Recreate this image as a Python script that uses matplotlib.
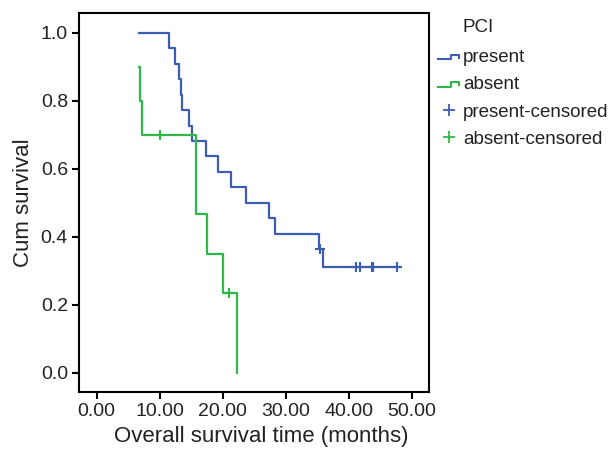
import numpy as np
import matplotlib.pyplot as plt
from matplotlib.lines import Line2D
from matplotlib.legend_handler import HandlerBase

plt.rcParams['font.family'] = ['Liberation Sans', 'DejaVu Sans']

# Kaplan-Meier step curves (time in months, cumulative survival)
present_t = [6.7, 11.4, 12.5, 13.0, 13.3, 13.5, 14.65, 15.2, 17.3, 19.2, 21.3, 23.7, 27.35, 28.35, 35.3, 35.97, 48.0]
present_s = [1.0, 0.955, 0.909, 0.864, 0.818, 0.773, 0.727, 0.682, 0.636, 0.591, 0.545, 0.5, 0.455, 0.409, 0.364, 0.312, 0.312]
present_cens_t = [35.45, 41.15, 41.8, 43.6, 43.8, 47.6]
present_cens_s = [0.364, 0.312, 0.312, 0.312, 0.312, 0.312]

absent_t = [6.77, 6.9, 7.2, 15.7, 17.55, 20.1, 22.2]
absent_s = [0.9, 0.8, 0.7, 0.467, 0.35, 0.233, 0.0]
absent_cens_t = [10.1, 20.95]
absent_cens_s = [0.7, 0.233]

blue = '#3d5cb6'
green = '#2fb84a'
txt = '#222222'


class StepHandler(HandlerBase):
    # small "_|‾|" step glyph for the survival curves in the legend
    def __init__(self, color):
        super().__init__()
        self.color = color

    def create_artists(self, legend, orig_handle, xdescent, ydescent,
                       width, height, fontsize, trans):
        x0 = -xdescent
        lo, hi = height * 0.2, height * 0.55
        xs = [x0, x0 + width * 0.6, x0 + width * 0.6, x0 + width, x0 + width]
        ys = [lo, lo, hi, hi, lo + 0.1 * height]
        line = Line2D(xs, ys, color=self.color, lw=1.5, transform=trans)
        return [line]


fig = plt.figure(figsize=(6.11, 4.5), dpi=100)
ax = fig.add_axes([0.1293, 0.129, 0.5727, 0.842])

ax.step(present_t, present_s, where='post', color=blue, lw=1.6)
ax.step(absent_t, absent_s, where='post', color=green, lw=1.6)
ax.plot(present_cens_t, present_cens_s, '+', color=blue, ms=7, mew=1.5)
ax.plot(absent_cens_t, absent_cens_s, '+', color=green, ms=7, mew=1.5)

ax.set_xlim(-2.8, 52.7)
ax.set_ylim(-0.057, 1.058)
ax.set_xticks(np.arange(0, 51, 10))
ax.set_xticklabels(['%.2f' % v for v in np.arange(0, 51, 10)])
ax.set_yticks(np.arange(0, 1.01, 0.2))
ax.set_yticklabels(['%.1f' % v for v in np.arange(0, 1.01, 0.2)])
ax.tick_params(axis='both', labelsize=14, length=5, width=1.5, direction='out',
               colors='black', labelcolor=txt, top=False, right=False, pad=3)
for s in ax.spines.values():
    s.set_linewidth(1.5)
    s.set_color('black')

ax.set_xlabel('Overall survival time (months)', fontsize=16, color=txt)
ax.xaxis.set_label_coords(0.521, -0.09)
ax.set_ylabel('Cum survival', fontsize=16, color=txt, labelpad=5)

h_present = Line2D([], [], color=blue)
h_absent = Line2D([], [], color=green)
h_pc = Line2D([], [], color=blue, marker='+', ls='none', ms=9, mew=1.3)
h_ac = Line2D([], [], color=green, marker='+', ls='none', ms=9, mew=1.3)
leg = fig.legend([h_present, h_absent, h_pc, h_ac],
                 ['present', 'absent', 'present-censored', 'absent-censored'],
                 loc='upper left', bbox_to_anchor=(0.717, 0.892),
                 frameon=False, fontsize=13.5, borderaxespad=0, borderpad=0,
                 handlelength=1.12, handletextpad=0.22, labelspacing=0.55,
                 handler_map={h_present: StepHandler(blue), h_absent: StepHandler(green)})
for t in leg.get_texts():
    t.set_color(txt)
fig.text(463 / 611, 1 - 27 / 450, 'PCI', fontsize=13.5, color=txt, ha='left', va='center')

fig.savefig('out.png', dpi=100)
